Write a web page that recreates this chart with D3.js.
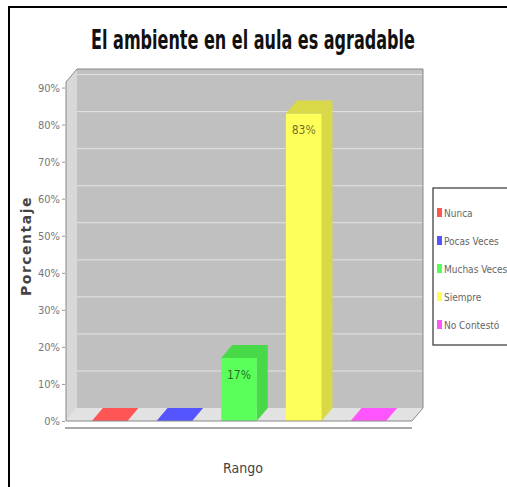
<!DOCTYPE html>
<html>
<head>
<meta charset="utf-8">
<script src="https://cdn.jsdelivr.net/npm/d3@7"></script>
<style>
  body { margin: 0; background: #fff; }
  svg { display: block; }
  .narrow { font-family: "Liberation Sans Narrow", "DejaVu Sans Condensed", sans-serif; }
</style>
</head>
<body>
<svg id="chart" width="507" height="487"></svg>
<script>
// chart data
const categories = ["Nunca", "Pocas Veces", "Muchas Veces", "Siempre", "No Contestó"];
const values = [0, 0, 17, 83, 0];
const colors = ["#ff5555", "#5555ff", "#55ff55", "#ffff55", "#ff55ff"];
const tickValues = [0, 10, 20, 30, 40, 50, 60, 70, 80, 90];

function whenDocumentLoaded(action) {
	if (document.readyState === "loading") {
		document.addEventListener("DOMContentLoaded", action);
	} else {
		action();
	}
}

function drawChart() {
	const svg = d3.select("#chart");

	// front face of the plot + 3d depth offset
	const left = 66, right = 412, bottom = 421, top = 82;
	const dx = 11, dy = 13;

	const x = d3.scaleBand()
		.domain(categories)
		.range([left, right])
		.paddingInner(0.45)
		.paddingOuter(0.4);
	const y = d3.scaleLinear().domain([0, 91.5]).range([bottom, top]);

	// outer frame
	svg.append("rect")
		.attr("x", 9).attr("y", 7)
		.attr("width", 530).attr("height", 500)
		.attr("fill", "none").attr("stroke", "#000").attr("stroke-width", 2);

	// title (squeezed horizontally, the original font is very condensed)
	svg.append("g")
		.attr("transform", "translate(253,49) scale(0.66,1)")
		.append("text")
		.attr("class", "narrow")
		.attr("text-anchor", "middle")
		.style("font-size", "27px")
		.style("font-weight", "bold")
		.attr("fill", "#111")
		.text("El ambiente en el aula es agradable");

	// walls
	const plot = svg.append("g");
	const pts = (arr) => arr.map((p) => p.join(",")).join(" ");

	plot.append("polygon")
		.attr("points", pts([[left, bottom], [left, top], [left + dx, top - dy], [left + dx, bottom - dy]]))
		.attr("fill", "#d8d8d8");
	plot.append("polygon")
		.attr("points", pts([[left, bottom], [left + dx, bottom - dy], [right + dx, bottom - dy], [right, bottom]]))
		.attr("fill", "#e2e2e2");
	plot.append("rect")
		.attr("x", left + dx).attr("y", top - dy)
		.attr("width", right - left).attr("height", bottom - top)
		.attr("fill", "#c0c0c0");

	// gridlines on back wall
	plot.append("g")
		.selectAll("line")
		.data(tickValues.slice(1))
		.join("line")
		.attr("x1", left + dx).attr("x2", right + dx)
		.attr("y1", (d) => y(d) - dy).attr("y2", (d) => y(d) - dy)
		.attr("stroke", "#e4e4e4").attr("stroke-width", 1);

	// bars
	const bars = plot.append("g")
		.selectAll("g")
		.data(categories.map((c, i) => ({ cat: c, value: values[i], color: colors[i] })))
		.join("g");

	bars.each(function (d) {
		const g = d3.select(this);
		const x0 = x(d.cat), w = x.bandwidth();
		const yt = y(d.value);
		const dark = d3.color(d.color).darker(0.45);
		if (d.value > 0) {
			g.append("polygon")
				.attr("points", pts([[x0 + w, bottom], [x0 + w, yt], [x0 + w + dx, yt - dy], [x0 + w + dx, bottom - dy]]))
				.attr("fill", dark);
			g.append("rect")
				.attr("x", x0).attr("y", yt)
				.attr("width", w).attr("height", bottom - yt)
				.attr("fill", d3.color(d.color).brighter(0.15));
		}
		g.append("polygon")
			.attr("points", pts([[x0, yt], [x0 + dx, yt - dy], [x0 + w + dx, yt - dy], [x0 + w, yt]]))
			.attr("fill", d.value > 0 ? dark : d.color);
		if (d.value > 0) {
			g.append("text")
				.attr("class", "narrow")
				.attr("x", x0 + w / 2).attr("y", yt + 21)
				.attr("text-anchor", "middle")
				.style("font-size", "12px")
				.attr("fill", "rgba(0,0,0,0.6)")
				.text(d.value + "%");
		}
	});

	// plot outline
	plot.append("polygon")
		.attr("points", pts([[left, bottom], [left, top], [left + dx, top - dy], [right + dx, top - dy], [right + dx, bottom - dy], [right, bottom]]))
		.attr("fill", "none").attr("stroke", "#888").attr("stroke-width", 1);

	// category axis line
	svg.append("line")
		.attr("x1", left - 1).attr("x2", right)
		.attr("y1", bottom + 7).attr("y2", bottom + 7)
		.attr("stroke", "#555").attr("stroke-width", 1.2);

	// value axis
	const yAxis = svg.append("g")
		.attr("transform", `translate(${left - 1},0)`)
		.call(d3.axisLeft(y).tickValues(tickValues).tickSize(3).tickPadding(2).tickFormat((d) => d + "%"));
	yAxis.select(".domain").remove();
	yAxis.selectAll(".tick line").attr("stroke", "#999");
	yAxis.selectAll(".tick text")
		.attr("class", "narrow")
		.style("font-size", "11px")
		.attr("fill", "#777");

	svg.append("text")
		.attr("transform", "translate(31,246) rotate(-90)")
		.attr("text-anchor", "middle")
		.style("font-family", "DejaVu Sans, sans-serif")
		.style("font-size", "14px")
		.style("letter-spacing", "1.5px")
		.style("font-weight", "bold")
		.attr("fill", "#444")
		.text("Porcentaje");

	svg.append("text")
		.attr("class", "narrow")
		.attr("x", 243).attr("y", 473)
		.attr("text-anchor", "middle")
		.style("font-size", "14px")
		.attr("fill", "#444")
		.text("Rango");

	// legend
	const legend = svg.append("g");
	legend.append("rect")
		.attr("x", 433).attr("y", 188)
		.attr("width", 90).attr("height", 157)
		.attr("fill", "#fff").attr("stroke", "#333").attr("stroke-width", 1.2);
	const item = legend.selectAll("g.item")
		.data(categories)
		.join("g")
		.attr("class", "item")
		.attr("transform", (d, i) => `translate(437,${213 + i * 28})`);
	item.append("rect")
		.attr("x", 0).attr("y", -5)
		.attr("width", 5).attr("height", 9)
		.attr("fill", (d, i) => colors[i]);
	item.append("text")
		.attr("class", "narrow")
		.attr("x", 7).attr("y", 4)
		.style("font-size", "10px")
		.attr("fill", "#666")
		.text((d) => d);
}

whenDocumentLoaded(drawChart);
</script>
</body>
</html>
